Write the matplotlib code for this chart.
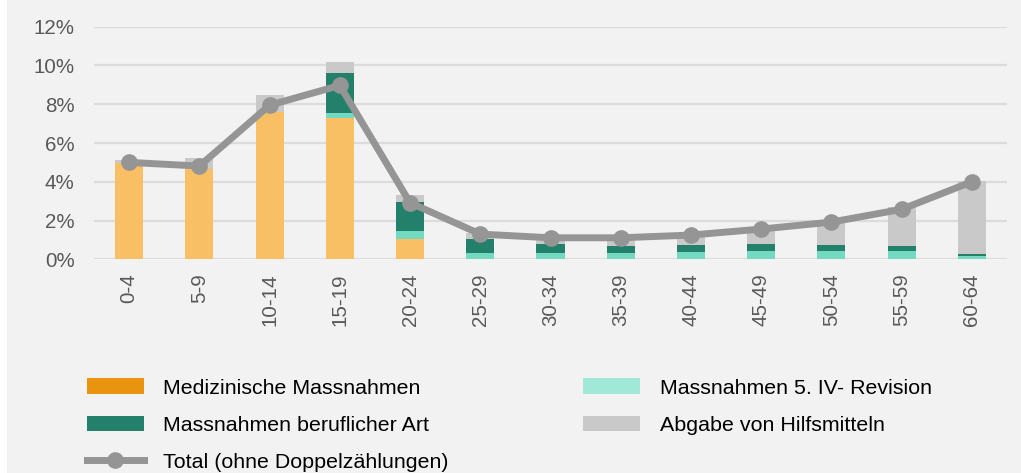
import matplotlib
matplotlib.use("Agg")
import matplotlib.pyplot as plt
from matplotlib.patches import Patch, Rectangle
from matplotlib.lines import Line2D
import numpy as np

plt.rcParams['font.family'] = ['Liberation Sans', 'DejaVu Sans']

categories = ["0-4", "5-9", "10-14", "15-19", "20-24", "25-29", "30-34",
              "35-39", "40-44", "45-49", "50-54", "55-59", "60-64"]
medizinisch = [4.98, 4.67, 7.59, 7.30, 1.05, 0.0, 0.0, 0.0, 0.0, 0.0, 0.0, 0.0, 0.0]
iv_revision = [0.0, 0.0, 0.0, 0.24, 0.42, 0.34, 0.34, 0.34, 0.39, 0.44, 0.44, 0.44, 0.17]
beruflich = [0.0, 0.0, 0.0, 2.08, 1.48, 0.69, 0.45, 0.35, 0.33, 0.33, 0.30, 0.25, 0.10]
hilfsmittel = [0.14, 0.55, 0.88, 0.55, 0.38, 0.35, 0.20, 0.30, 0.60, 0.85, 1.30, 2.00, 3.77]
total = [5.00, 4.81, 7.95, 8.97, 2.92, 1.30, 1.11, 1.11, 1.25, 1.56, 1.92, 2.58, 4.00]
yticks = [0, 2, 4, 6, 8, 10, 12]

labels = ["Medizinische Massnahmen", "Massnahmen beruflicher Art",
          "Total (ohne Doppelzählungen)", "Massnahmen 5. IV- Revision",
          "Abgabe von Hilfsmitteln"]

c_orange = "#F8BF64"
c_teal = "#73D9C1"
c_dark = "#22806B"
c_gray = "#C9C9C9"
c_line = "#959595"
leg_orange = "#E8940F"
leg_teal = "#A2E8D8"

W, H = 1021, 473
fig = plt.figure(figsize=(W / 100, H / 100), dpi=100)
fig.patch.set_facecolor("#F2F2F2")
fig.patches.append(Rectangle((0, 0), 7 / W, 1, transform=fig.transFigure,
                             facecolor="white", edgecolor="none", zorder=-1))

ax = fig.add_axes([94 / W, 1 - 259.3 / H, (1007 - 94) / W, (259.3 - 26.7) / H])
ax.set_facecolor("#F2F2F2")

x = np.arange(len(categories))
w = 0.4
b = np.zeros(len(categories))
for vals, col in [(medizinisch, c_orange), (iv_revision, c_teal),
                  (beruflich, c_dark), (hilfsmittel, c_gray)]:
    v = np.array(vals) / 100
    ax.bar(x, v, w, bottom=b, color=col, zorder=2, linewidth=0)
    b = b + v

ax.plot(x, np.array(total) / 100, color=c_line, lw=5, marker="o", ms=11,
        zorder=3, solid_capstyle="butt")

ax.set_xlim(-0.5, len(categories) - 0.5)
ax.set_ylim(0, 0.12)
ax.set_yticks(np.array(yticks) / 100)
ax.set_yticklabels([f"{t}%" for t in yticks])
ax.set_xticks(x)
ax.set_xticklabels(categories, rotation=90, va="top", ha="center")
ax.tick_params(axis="both", length=0, labelsize=14.8, labelcolor="#595959")
ax.tick_params(axis="y", pad=14)
ax.tick_params(axis="x", pad=10)
ax.grid(axis="y", color="#DCDCDC", lw=1.6, zorder=0)
for s in ax.spines.values():
    s.set_visible(False)

handles = [Patch(facecolor=leg_orange, edgecolor="none"),
           Patch(facecolor=c_dark, edgecolor="none"),
           Line2D([0], [0], color=c_line, lw=5, marker="o", ms=11),
           Patch(facecolor=leg_teal, edgecolor="none"),
           Patch(facecolor=c_gray, edgecolor="none")]
leg = fig.legend(handles, labels, ncol=2, loc="upper left",
                 bbox_to_anchor=(87 / W, 1 - 378.5 / H), frameon=False,
                 fontsize=15.4, handlelength=2.66, handleheight=0.75,
                 handletextpad=0.9, columnspacing=6.3, labelspacing=0.83,
                 borderaxespad=0, borderpad=0)
for t in leg.get_texts():
    t.set_color("#000000")

fig.savefig("out.png", dpi=100, facecolor=fig.get_facecolor())
